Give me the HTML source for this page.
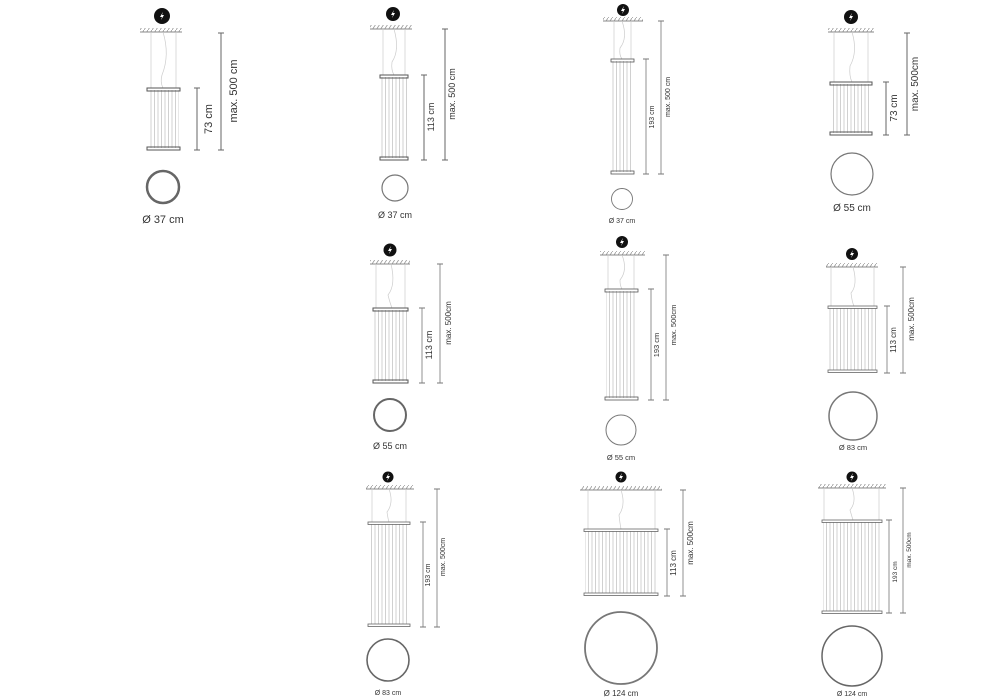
<!DOCTYPE html>
<html><head><meta charset="utf-8"><style>
html,body{margin:0;padding:0;background:#fff;}
svg{display:block;}
text{font-family:"Liberation Sans",sans-serif;fill:#333;}
</style></head><body>
<svg width="1000" height="700" viewBox="0 0 1000 700" xmlns="http://www.w3.org/2000/svg">
<defs>
<pattern id="st" width="3.5" height="10" patternUnits="userSpaceOnUse">
<rect width="3.5" height="10" fill="#fff"/><rect x="0" width="1" height="10" fill="#d0d0d0"/>
</pattern>
<pattern id="hat" width="4" height="6" patternUnits="userSpaceOnUse">
<rect width="4" height="6" fill="#fff"/><line x1="0" y1="6" x2="4" y2="0" stroke="#999" stroke-width="0.8"/>
</pattern>
<g id="bolt"><path d="M1 -4 L-2 1 L0 1 L-1 4 L2 -1 L0 -1 Z" fill="#fff"/></g>
</defs>

<!-- L1 -->
<g>
<circle cx="162" cy="16" r="8" fill="#111"/><use href="#bolt" x="162" y="16"/>
<rect x="140" y="28" width="42" height="4" fill="url(#hat)"/><line x1="140" y1="32" x2="182" y2="32" stroke="#888"/>
<line x1="151" y1="32" x2="151" y2="88" stroke="#ccc" stroke-width="0.7"/><line x1="176" y1="32" x2="176" y2="88" stroke="#ccc" stroke-width="0.7"/>
<path d="M163 32 Q170 55 162 75 Q160 82 163 88" fill="none" stroke="#ccc" stroke-width="0.7"/>
<rect x="148" y="90" width="31" height="58" fill="url(#st)"/>
<rect x="147" y="88" width="33" height="3" fill="none" stroke="#555" stroke-width="1"/>
<rect x="147" y="147" width="33" height="3" fill="none" stroke="#555" stroke-width="1"/>
<line x1="197" y1="88" x2="197" y2="150" stroke="#666"/><line x1="194" y1="88" x2="200" y2="88" stroke="#666"/><line x1="194" y1="150" x2="200" y2="150" stroke="#666"/>
<line x1="221" y1="33" x2="221" y2="150" stroke="#666"/><line x1="218" y1="33" x2="224" y2="33" stroke="#666"/><line x1="218" y1="150" x2="224" y2="150" stroke="#666"/>
<text transform="translate(212,119) rotate(-90)" font-size="11" text-anchor="middle">73 cm</text>
<text transform="translate(237,91) rotate(-90)" font-size="11" text-anchor="middle">max. 500 cm</text>
<circle cx="163" cy="187" r="16" fill="none" stroke="#666" stroke-width="2.5"/>
<text x="163" y="223" font-size="11" text-anchor="middle">Ø 37 cm</text>
</g>

<!-- L2 -->
<g>
<circle cx="393" cy="14" r="7" fill="#111"/><use href="#bolt" x="393" y="14"/>
<rect x="370" y="25" width="42" height="4" fill="url(#hat)"/><line x1="370" y1="29" x2="412" y2="29" stroke="#888"/>
<line x1="383" y1="29" x2="383" y2="75" stroke="#ccc" stroke-width="0.7"/><line x1="405" y1="29" x2="405" y2="75" stroke="#ccc" stroke-width="0.7"/>
<path d="M394 29 Q400 50 392 62 Q391 70 394 75" fill="none" stroke="#ccc" stroke-width="0.7"/>
<rect x="381" y="77" width="26" height="81" fill="url(#st)"/>
<rect x="380" y="75" width="28" height="3" fill="none" stroke="#555"/>
<rect x="380" y="157" width="28" height="3" fill="none" stroke="#555"/>
<line x1="424" y1="75" x2="424" y2="160" stroke="#666"/><line x1="421" y1="75" x2="427" y2="75" stroke="#666"/><line x1="421" y1="160" x2="427" y2="160" stroke="#666"/>
<line x1="445" y1="29" x2="445" y2="160" stroke="#666"/><line x1="442" y1="29" x2="448" y2="29" stroke="#666"/><line x1="442" y1="160" x2="448" y2="160" stroke="#666"/>
<text transform="translate(434,117) rotate(-90)" font-size="9" text-anchor="middle">113 cm</text>
<text transform="translate(455,94) rotate(-90)" font-size="9" text-anchor="middle">max. 500 cm</text>
<circle cx="395" cy="188" r="13" fill="none" stroke="#777" stroke-width="1.2"/>
<text x="395" y="218" font-size="9" text-anchor="middle">Ø 37 cm</text>
</g>

<!-- L3 -->
<g>
<circle cx="623" cy="10" r="6" fill="#111"/><use href="#bolt" x="623" y="10"/>
<rect x="603" y="17" width="40" height="4" fill="url(#hat)"/><line x1="603" y1="21" x2="643" y2="21" stroke="#888"/>
<line x1="614" y1="21" x2="614" y2="59" stroke="#ccc" stroke-width="0.7"/><line x1="631" y1="21" x2="631" y2="59" stroke="#ccc" stroke-width="0.7"/>
<path d="M622 21 Q628 38 620 48 Q619 55 622 59" fill="none" stroke="#ccc" stroke-width="0.7"/>
<rect x="612" y="61" width="21" height="111" fill="url(#st)"/>
<rect x="611" y="59" width="23" height="3" fill="none" stroke="#555" stroke-width="0.8"/>
<rect x="611" y="171" width="23" height="3" fill="none" stroke="#555" stroke-width="0.8"/>
<line x1="646" y1="59" x2="646" y2="174" stroke="#777" stroke-width="0.8"/><line x1="643" y1="59" x2="649" y2="59" stroke="#777"/><line x1="643" y1="174" x2="649" y2="174" stroke="#777"/>
<line x1="661" y1="21" x2="661" y2="174" stroke="#777" stroke-width="0.8"/><line x1="658" y1="21" x2="664" y2="21" stroke="#777"/><line x1="658" y1="174" x2="664" y2="174" stroke="#777"/>
<text transform="translate(654,117) rotate(-90)" font-size="7" text-anchor="middle">193 cm</text>
<text transform="translate(670,97) rotate(-90)" font-size="7" text-anchor="middle">max. 500 cm</text>
<circle cx="622" cy="199" r="10.5" fill="none" stroke="#777" stroke-width="0.9"/>
<text x="622" y="223" font-size="7" text-anchor="middle">Ø 37 cm</text>
</g>

<!-- L4 -->
<g>
<circle cx="851" cy="17" r="7" fill="#111"/><use href="#bolt" x="851" y="17"/>
<rect x="828" y="28" width="46" height="4" fill="url(#hat)"/><line x1="828" y1="32" x2="874" y2="32" stroke="#888"/>
<line x1="834" y1="32" x2="834" y2="82" stroke="#ccc" stroke-width="0.7"/><line x1="868" y1="32" x2="868" y2="82" stroke="#ccc" stroke-width="0.7"/>
<path d="M852 32 Q858 52 850 66 Q849 76 852 82" fill="none" stroke="#ccc" stroke-width="0.7"/>
<rect x="831" y="84" width="40" height="49" fill="url(#st)"/>
<rect x="830" y="82" width="42" height="3" fill="none" stroke="#555"/>
<rect x="830" y="132" width="42" height="3" fill="none" stroke="#555"/>
<line x1="886" y1="82" x2="886" y2="135" stroke="#666"/><line x1="883" y1="82" x2="889" y2="82" stroke="#666"/><line x1="883" y1="135" x2="889" y2="135" stroke="#666"/>
<line x1="907" y1="33" x2="907" y2="135" stroke="#666"/><line x1="904" y1="33" x2="910" y2="33" stroke="#666"/><line x1="904" y1="135" x2="910" y2="135" stroke="#666"/>
<text transform="translate(897,108) rotate(-90)" font-size="10" text-anchor="middle">73 cm</text>
<text transform="translate(918,84) rotate(-90)" font-size="10" text-anchor="middle">max. 500cm</text>
<circle cx="852" cy="174" r="21" fill="none" stroke="#777" stroke-width="1.2"/>
<text x="852" y="211" font-size="10" text-anchor="middle">Ø 55 cm</text>
</g>

<!-- L5 -->
<g>
<circle cx="390" cy="250" r="6.5" fill="#111"/><use href="#bolt" x="390" y="250"/>
<rect x="370" y="260" width="40" height="4" fill="url(#hat)"/><line x1="370" y1="264" x2="410" y2="264" stroke="#888"/>
<line x1="376" y1="264" x2="376" y2="308" stroke="#ccc" stroke-width="0.7"/><line x1="405" y1="264" x2="405" y2="308" stroke="#ccc" stroke-width="0.7"/>
<path d="M391 264 Q396 285 388 295 Q390 303 392 308" fill="none" stroke="#ccc" stroke-width="0.7"/>
<rect x="374" y="310" width="33" height="71" fill="url(#st)"/>
<rect x="373" y="308" width="35" height="3" fill="none" stroke="#555"/>
<rect x="373" y="380" width="35" height="3" fill="none" stroke="#555"/>
<line x1="422" y1="308" x2="422" y2="383" stroke="#777" stroke-width="0.8"/><line x1="419" y1="308" x2="425" y2="308" stroke="#777"/><line x1="419" y1="383" x2="425" y2="383" stroke="#777"/>
<line x1="440" y1="264" x2="440" y2="383" stroke="#777" stroke-width="0.8"/><line x1="437" y1="264" x2="443" y2="264" stroke="#777"/><line x1="437" y1="383" x2="443" y2="383" stroke="#777"/>
<text transform="translate(432,345) rotate(-90)" font-size="9" text-anchor="middle">113 cm</text>
<text transform="translate(451,323) rotate(-90)" font-size="8" text-anchor="middle">max. 500cm</text>
<circle cx="390" cy="415" r="16" fill="none" stroke="#666" stroke-width="2"/>
<text x="390" y="449" font-size="9" text-anchor="middle">Ø 55 cm</text>
</g>

<!-- L6 -->
<g>
<circle cx="622" cy="242" r="6" fill="#111"/><use href="#bolt" x="622" y="242"/>
<rect x="600" y="251" width="45" height="4" fill="url(#hat)"/><line x1="600" y1="255" x2="645" y2="255" stroke="#888"/>
<line x1="608" y1="255" x2="608" y2="289" stroke="#ccc" stroke-width="0.7"/><line x1="634" y1="255" x2="634" y2="289" stroke="#ccc" stroke-width="0.7"/>
<path d="M622 255 Q628 270 620 280 Q620 286 622 289" fill="none" stroke="#ccc" stroke-width="0.7"/>
<rect x="606" y="291" width="31" height="107" fill="url(#st)"/>
<rect x="605" y="289" width="33" height="3" fill="none" stroke="#555" stroke-width="0.8"/>
<rect x="605" y="397" width="33" height="3" fill="none" stroke="#555" stroke-width="0.8"/>
<line x1="651" y1="289" x2="651" y2="400" stroke="#777" stroke-width="0.8"/><line x1="648" y1="289" x2="654" y2="289" stroke="#777"/><line x1="648" y1="400" x2="654" y2="400" stroke="#777"/>
<line x1="666" y1="255" x2="666" y2="400" stroke="#777" stroke-width="0.8"/><line x1="663" y1="255" x2="669" y2="255" stroke="#777"/><line x1="663" y1="400" x2="669" y2="400" stroke="#777"/>
<text transform="translate(659,345) rotate(-90)" font-size="7.5" text-anchor="middle">193 cm</text>
<text transform="translate(676,325) rotate(-90)" font-size="7.5" text-anchor="middle">max. 500cm</text>
<circle cx="621" cy="430" r="15" fill="none" stroke="#777" stroke-width="1"/>
<text x="621" y="460" font-size="7.5" text-anchor="middle">Ø 55 cm</text>
</g>

<!-- L7 -->
<g>
<circle cx="852" cy="254" r="6" fill="#111"/><use href="#bolt" x="852" y="254"/>
<rect x="826" y="263" width="52" height="4" fill="url(#hat)"/><line x1="826" y1="267" x2="878" y2="267" stroke="#888"/>
<line x1="831" y1="267" x2="831" y2="306" stroke="#ccc" stroke-width="0.7"/><line x1="874" y1="267" x2="874" y2="306" stroke="#ccc" stroke-width="0.7"/>
<path d="M853 267 Q858 285 851 293 Q852 302 854 306" fill="none" stroke="#ccc" stroke-width="0.7"/>
<rect x="829" y="308" width="47" height="62" fill="url(#st)"/>
<rect x="828" y="306" width="49" height="2.5" fill="none" stroke="#666" stroke-width="0.8"/>
<rect x="828" y="370" width="49" height="2.5" fill="none" stroke="#666" stroke-width="0.8"/>
<line x1="887" y1="306" x2="887" y2="373" stroke="#777" stroke-width="0.8"/><line x1="884" y1="306" x2="890" y2="306" stroke="#777"/><line x1="884" y1="373" x2="890" y2="373" stroke="#777"/>
<line x1="903" y1="267" x2="903" y2="373" stroke="#777" stroke-width="0.8"/><line x1="900" y1="267" x2="906" y2="267" stroke="#777"/><line x1="900" y1="373" x2="906" y2="373" stroke="#777"/>
<text transform="translate(896,340) rotate(-90)" font-size="8" text-anchor="middle">113 cm</text>
<text transform="translate(914,319) rotate(-90)" font-size="8" text-anchor="middle">max. 500cm</text>
<circle cx="853" cy="416" r="24" fill="none" stroke="#777" stroke-width="1.5"/>
<text x="853" y="450" font-size="7.5" text-anchor="middle">Ø 83 cm</text>
</g>

<!-- L8 -->
<g>
<circle cx="388" cy="477" r="5.5" fill="#111"/><use href="#bolt" x="388" y="477"/>
<rect x="366" y="485" width="48" height="4" fill="url(#hat)"/><line x1="366" y1="489" x2="414" y2="489" stroke="#888"/>
<line x1="372" y1="489" x2="372" y2="522" stroke="#ccc" stroke-width="0.7"/><line x1="406" y1="489" x2="406" y2="522" stroke="#ccc" stroke-width="0.7"/>
<path d="M389 489 Q394 503 387 512 Q388 519 389 522" fill="none" stroke="#ccc" stroke-width="0.7"/>
<rect x="369" y="524" width="40" height="100" fill="url(#st)"/>
<rect x="368" y="522" width="42" height="2.5" fill="none" stroke="#666" stroke-width="0.8"/>
<rect x="368" y="624" width="42" height="2.5" fill="none" stroke="#666" stroke-width="0.8"/>
<line x1="423" y1="522" x2="423" y2="627" stroke="#777" stroke-width="0.8"/><line x1="420" y1="522" x2="426" y2="522" stroke="#777"/><line x1="420" y1="627" x2="426" y2="627" stroke="#777"/>
<line x1="437" y1="489" x2="437" y2="627" stroke="#777" stroke-width="0.8"/><line x1="434" y1="489" x2="440" y2="489" stroke="#777"/><line x1="434" y1="627" x2="440" y2="627" stroke="#777"/>
<text transform="translate(430,575) rotate(-90)" font-size="7" text-anchor="middle">193 cm</text>
<text transform="translate(445,557) rotate(-90)" font-size="7" text-anchor="middle">max. 500cm</text>
<circle cx="388" cy="660" r="21" fill="none" stroke="#666" stroke-width="1.6"/>
<text x="388" y="695" font-size="7" text-anchor="middle">Ø 83 cm</text>
</g>

<!-- L9 -->
<g>
<circle cx="621" cy="477" r="5.5" fill="#111"/><use href="#bolt" x="621" y="477"/>
<rect x="580" y="486" width="82" height="4" fill="url(#hat)"/><line x1="580" y1="490" x2="662" y2="490" stroke="#888"/>
<line x1="588" y1="490" x2="588" y2="529" stroke="#ccc" stroke-width="0.7"/><line x1="655" y1="490" x2="655" y2="529" stroke="#ccc" stroke-width="0.7"/>
<path d="M621 490 Q626 505 619 515 Q620 524 621 529" fill="none" stroke="#ccc" stroke-width="0.7"/>
<rect x="585" y="531" width="72" height="62" fill="url(#st)"/>
<rect x="584" y="529" width="74" height="2.5" fill="none" stroke="#666" stroke-width="0.8"/>
<rect x="584" y="593" width="74" height="2.5" fill="none" stroke="#666" stroke-width="0.8"/>
<line x1="667" y1="529" x2="667" y2="596" stroke="#777" stroke-width="0.8"/><line x1="664" y1="529" x2="670" y2="529" stroke="#777"/><line x1="664" y1="596" x2="670" y2="596" stroke="#777"/>
<line x1="683" y1="490" x2="683" y2="596" stroke="#777" stroke-width="0.8"/><line x1="680" y1="490" x2="686" y2="490" stroke="#777"/><line x1="680" y1="596" x2="686" y2="596" stroke="#777"/>
<text transform="translate(676,563) rotate(-90)" font-size="8" text-anchor="middle">113 cm</text>
<text transform="translate(693,543) rotate(-90)" font-size="8" text-anchor="middle">max. 500cm</text>
<circle cx="621" cy="648" r="36" fill="none" stroke="#777" stroke-width="1.8"/>
<text x="621" y="696" font-size="8" text-anchor="middle">Ø 124 cm</text>
</g>

<!-- L10 -->
<g>
<circle cx="852" cy="477" r="5.5" fill="#111"/><use href="#bolt" x="852" y="477"/>
<rect x="818" y="484" width="68" height="4" fill="url(#hat)"/><line x1="818" y1="488" x2="886" y2="488" stroke="#888"/>
<line x1="824" y1="488" x2="824" y2="520" stroke="#ccc" stroke-width="0.7"/><line x1="879" y1="488" x2="879" y2="520" stroke="#ccc" stroke-width="0.7"/>
<path d="M852 488 Q857 502 850 510 Q852 517 853 520" fill="none" stroke="#ccc" stroke-width="0.7"/>
<rect x="823" y="522" width="58" height="89" fill="url(#st)"/>
<rect x="822" y="520" width="60" height="2.5" fill="none" stroke="#666" stroke-width="0.8"/>
<rect x="822" y="611" width="60" height="2.5" fill="none" stroke="#666" stroke-width="0.8"/>
<line x1="889" y1="520" x2="889" y2="613" stroke="#777" stroke-width="0.8"/><line x1="886" y1="520" x2="892" y2="520" stroke="#777"/><line x1="886" y1="613" x2="892" y2="613" stroke="#777"/>
<line x1="903" y1="488" x2="903" y2="613" stroke="#777" stroke-width="0.8"/><line x1="900" y1="488" x2="906" y2="488" stroke="#777"/><line x1="900" y1="613" x2="906" y2="613" stroke="#777"/>
<text transform="translate(897,572) rotate(-90)" font-size="6.5" text-anchor="middle">193 cm</text>
<text transform="translate(911,550) rotate(-90)" font-size="6.5" text-anchor="middle">max. 500cm</text>
<circle cx="852" cy="656" r="30" fill="none" stroke="#666" stroke-width="1.5"/>
<text x="852" y="696" font-size="7" text-anchor="middle">Ø 124 cm</text>
</g>
</svg>
</body></html>
